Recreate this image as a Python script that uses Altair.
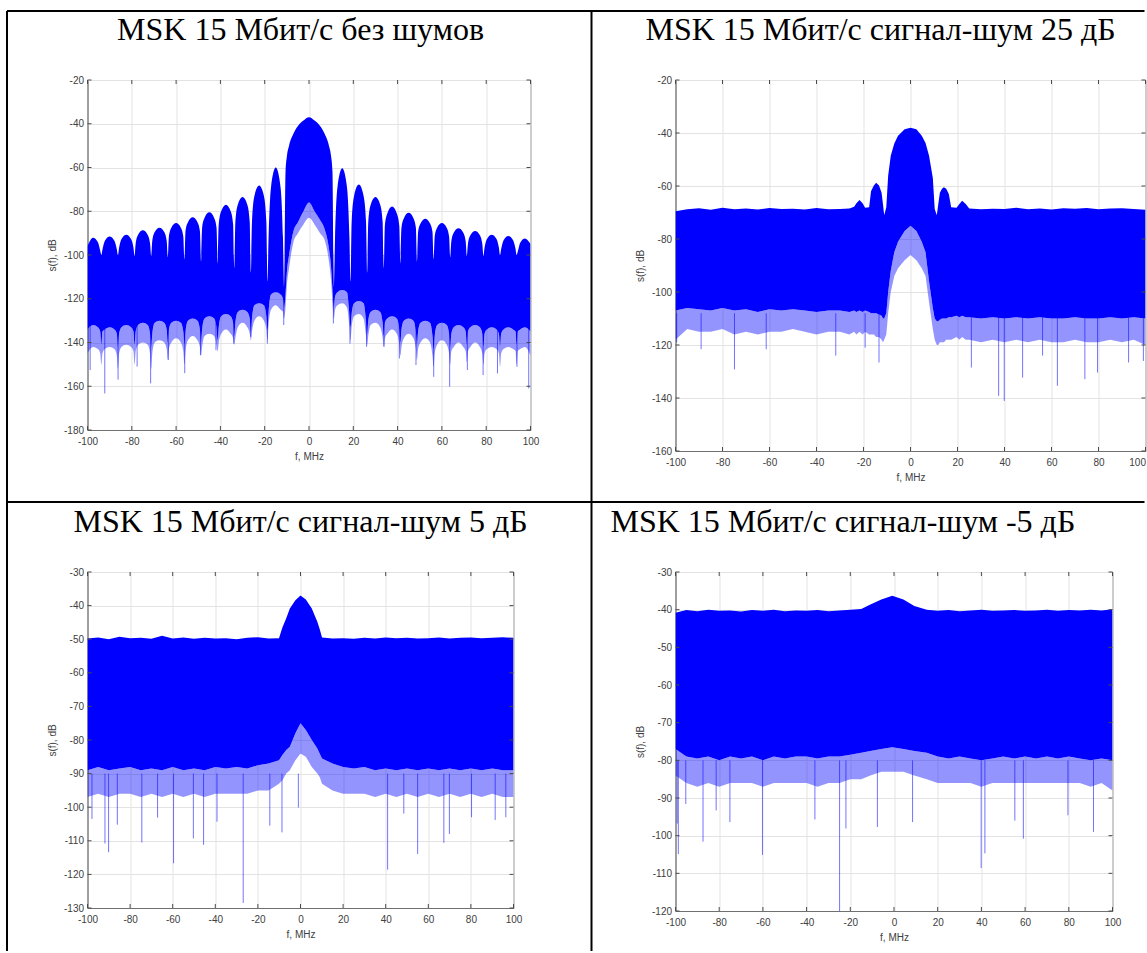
import altair as alt
import pandas as pd

BLUE = "#0000ff"
SANS = "Liberation Sans"
SERIF = "Liberation Serif"
X_TICKS = [-100, -80, -60, -40, -20, 0, 20, 40, 60, 80, 100]

# ---------------- Panel 1: no noise (one row per sidelobe) ----------------
p1_f = [
    -100, -97.5, -95.35, -94.25, -93.75,
    -93.25, -92.15, -90, -87.85, -86.75, -86.25,
    -85.75, -84.65, -82.5, -80.35, -79.25, -78.75,
    -78.25, -77.15, -75, -72.85, -71.75, -71.25,
    -70.75, -69.65, -67.5, -65.35, -64.25, -63.75,
    -63.25, -62.15, -60, -57.85, -56.75, -56.25,
    -55.75, -54.65, -52.5, -50.35, -49.25, -48.75,
    -48.25, -47.15, -45, -42.85, -41.75, -41.25,
    -40.75, -39.65, -37.5, -35.35, -34.25, -33.75,
    -33.25, -32.15, -30, -27.85, -26.75, -26.25,
    -25.75, -24.65, -22.5, -20.35, -19.25, -18.75,
    -18.25, -17.15, -15, -12.85, -11.75, -11.25,
    -10.6, -10, -9, -7, -5, -2.5, 0, 2.5, 5, 7, 9, 10, 10.6,
    11.25, 11.75, 12.85, 15, 17.15, 18.25,
    18.75, 19.25, 20.35, 22.5, 24.65, 25.75,
    26.25, 26.75, 27.85, 30, 32.15, 33.25,
    33.75, 34.25, 35.35, 37.5, 39.65, 40.75,
    41.25, 41.75, 42.85, 45, 47.15, 48.25,
    48.75, 49.25, 50.35, 52.5, 54.65, 55.75,
    56.25, 56.75, 57.85, 60, 62.15, 63.25,
    63.75, 64.25, 65.35, 67.5, 69.65, 70.75,
    71.25, 71.75, 72.85, 75, 77.15, 78.25,
    78.75, 79.25, 80.35, 82.5, 84.65, 85.75,
    86.25, 86.75, 87.85, 90, 92.15, 93.25,
    93.75, 94.25, 95.35, 97.5, 100]
p1_top = [
    -96.0, -92.1, -94.1, -98.1, -100.0,
    -97.5, -93.5, -91.5, -93.5, -97.5, -100.0,
    -96.7, -92.7, -90.7, -92.7, -96.7, -100.5,
    -94.7, -90.7, -88.7, -90.7, -94.7, -100.5,
    -93.5, -89.5, -87.5, -89.5, -93.5, -101.0,
    -91.5, -87.5, -85.4, -87.5, -91.5, -102.0,
    -89.0, -85.0, -82.7, -85.0, -89.0, -103.0,
    -87.5, -83.0, -80.5, -83.0, -87.5, -104.0,
    -86.0, -80.0, -77.0, -80.0, -86.0, -106.0,
    -85.0, -77.0, -73.5, -77.0, -85.0, -108.0,
    -85.0, -73.0, -68.2, -73.0, -85.0, -112.0,
    -92.0, -69.0, -60.0, -69.0, -92.0, -115.0,
    -62.0, -55.0, -50.0, -44.5, -41.0, -38.5, -37.0, -38.5, -41.0, -44.5, -50.0, -55.0, -62.0,
    -115.0, -92.0, -69.0, -60.3, -69.0, -92.0,
    -112.0, -85.0, -73.0, -67.8, -73.0, -85.0,
    -108.0, -85.0, -77.0, -73.5, -77.0, -85.0,
    -106.0, -86.5, -81.0, -77.8, -81.0, -86.5,
    -104.0, -87.5, -83.2, -80.7, -83.2, -87.5,
    -103.0, -89.5, -85.6, -83.4, -85.6, -89.5,
    -102.0, -91.5, -87.5, -85.4, -87.5, -91.5,
    -101.0, -93.8, -89.8, -87.8, -89.8, -93.8,
    -100.5, -95.0, -91.0, -89.0, -91.0, -95.0,
    -100.5, -96.7, -92.7, -90.7, -92.7, -96.7,
    -100.0, -97.3, -93.3, -91.3, -93.3, -97.3,
    -100.0, -98.4, -94.4, -92.4, -95.0]
p1_bot = [
    -134, -132, -133, -135, -141,
    -135, -134, -133, -134, -136, -142,
    -136, -133, -132, -133, -135, -141,
    -135, -132, -131, -132, -136, -142,
    -136, -131, -130, -131, -134, -140,
    -134, -131, -130, -131, -135, -141,
    -135, -130, -129, -130, -134, -140,
    -134, -129, -128, -129, -133, -139,
    -133, -128, -127, -128, -131, -137,
    -131, -126, -125, -126, -129, -135,
    -129, -123, -122, -123, -128, -134,
    -126, -118, -117, -118, -120, -124,
    -118, -108, -100, -89, -85, -80, -76, -80, -84, -88, -97, -106, -116,
    -124, -119, -117, -116, -117, -127,
    -133, -127, -122, -121, -122, -130,
    -136, -130, -126, -125, -126, -131,
    -137, -131, -129, -128, -129, -134,
    -140, -134, -130, -129, -130, -135,
    -141, -135, -131, -130, -131, -137,
    -143, -137, -132, -131, -132, -136,
    -142, -136, -133, -132, -133, -135,
    -141, -135, -133, -132, -133, -136,
    -142, -136, -134, -133, -134, -136,
    -142, -136, -134, -133, -134, -135,
    -141, -135, -134, -133, -135]
p1_light = [
    -145, -142, -143, -145, -150,
    -145, -143, -142, -143, -146, -152,
    -145, -142, -141, -142, -144, -150,
    -144, -141, -140, -141, -145, -152,
    -145, -140, -139, -140, -143, -148,
    -143, -140, -138, -140, -144, -150,
    -144, -139, -137, -139, -142, -146,
    -142, -137, -136, -137, -141, -144,
    -140, -136, -134, -136, -138, -141,
    -138, -133, -131, -133, -136, -139,
    -135, -130, -128, -130, -134, -139,
    -132, -125, -123, -125, -126, -129,
    -124, -114, -106, -94, -90, -86, -83, -86, -90, -93, -103, -112, -122,
    -129, -125, -123, -122, -124, -133,
    -139, -133, -128, -127, -129, -137,
    -141, -137, -132, -131, -133, -138,
    -142, -138, -136, -134, -136, -141,
    -146, -142, -138, -136, -138, -143,
    -148, -143, -140, -138, -140, -146,
    -151, -145, -141, -139, -141, -145,
    -150, -144, -142, -140, -142, -144,
    -149, -144, -142, -140, -142, -145,
    -150, -145, -143, -142, -143, -145,
    -151, -145, -143, -142, -143, -144,
    -150, -144, -143, -142, -146]
p1_spike_f = [-98.8, -92.2, -86.2, -77.6, -71.5, -63.5, -56.1, -49.0, -42.0, -34.0,
              -26.3, -18.8, -11.4, 11.0, 18.5, 26.0, 33.9, 40.8, 48.3, 56.3,
              63.5, 71.5, 78.6, 85.1, 93.9, 99.2]
p1_spike_db = [-152.6, -163.3, -157.0, -151.0, -158.7, -148.0, -154.0, -145.8, -143.5, -140.5,
               -137.4, -140.5, -132.0, -131.3, -140.5, -142.0, -142.0, -147.3, -150.3, -155.7,
               -160.2, -152.6, -154.9, -154.1, -151.1, -161.0]
p1_spike_from = -120

# ---------------- Panel 2: SNR 25 dB ----------------
p2_f = [
    -100, -95, -90, -85, -80, -75, -70, -65, -60, -55,
    -50, -45, -40, -35, -30, -26, -24, -23, -21.7, -20.4,
    -19.3, -17.6, -16.8, -15.6, -14.6, -13.4, -12.3, -11.7, -11.2, -10.3,
    -9.5, -8.4, -6.9, -5.3, -2.5, 0, 2.5, 4.8, 6.4, 7.9,
    9.5, 10.3, 11.2, 11.8, 12.5, 13.4, 14.2, 15.2, 16.3, 17.3,
    19.6, 20.8, 22, 23.5, 25, 30, 35, 40, 45, 50,
    55, 60, 65, 70, 75, 80, 85, 90, 95, 100]
p2_top = [
    -69.5, -68.8, -68.4, -69.0, -68.2, -68.8, -68.5, -68.9, -68.3, -68.7,
    -68.6, -68.9, -68.3, -68.8, -68.7, -68.5, -67.8, -66.5, -65.3, -66.5,
    -68.2, -68.0, -62.0, -59.8, -58.8, -59.8, -62.5, -67.0, -71.0, -68.0,
    -56.0, -48.6, -44.0, -41.0, -38.6, -38.0, -38.6, -41.0, -43.8, -48.6,
    -57.0, -68.7, -71.0, -67.0, -62.5, -61.0, -60.5, -61.0, -63.0, -68.0,
    -68.2, -66.8, -65.6, -66.8, -68.5, -68.8, -68.6, -68.7, -68.2, -68.8,
    -68.5, -68.9, -68.4, -68.6, -68.3, -68.8, -68.5, -68.4, -68.7, -69.0]
p2_bot = [
    -107, -106, -106.5, -107, -106, -107, -106.5, -107.5, -106.5, -107,
    -106.5, -107, -107.5, -107, -107, -107.5, -107, -107.5, -107, -107.5,
    -107, -107.5, -108, -108, -108, -108.5, -109, -110, -110, -108,
    -100, -92, -85, -81, -77, -75, -77, -81, -85, -96,
    -106, -110, -111, -111, -110.5, -110, -110, -110, -109.5, -109.5,
    -109, -109.5, -109, -109.5, -109.5, -110, -109.5, -110, -109.5, -110,
    -109.5, -110, -110, -109.5, -110, -110, -109.5, -110, -109.5, -110]
p2_light = [
    -118, -114, -115, -115, -114, -116, -115, -116, -115, -115,
    -114, -115, -116, -115, -115, -116, -115, -116, -115, -116,
    -115, -116, -116, -116, -117, -117, -118, -119, -118, -116,
    -108, -100, -94, -91, -88, -86, -88, -91, -94, -104,
    -114, -118, -120, -120, -119, -119, -119, -118, -118, -118,
    -117, -118, -117, -118, -118, -119, -118, -119, -118, -119,
    -118, -119, -119, -118, -119, -119, -118, -119, -118, -120]
p2_spike_f = [-99.5, -89.1, -74.9, -61.4, -31.8, -19.3, -13.4, 25.9, 37.5, 39.9,
              47.7, 56.2, 62.5, 74.2, 79.6, 92.8, 99.1]
p2_spike_db = [-119.0, -121.6, -129.2, -121.6, -124.0, -121.0, -126.6, -128.5, -139.2, -141.1,
               -132.3, -124.0, -135.4, -132.9, -130.4, -126.6, -126.0]
p2_spike_from = -108

# ---------------- Panel 3: SNR 5 dB ----------------
p3_f = [
    -100, -95, -90, -85, -80, -75, -70, -65, -60, -55,
    -50, -45, -40, -35, -30, -25, -20, -15, -10.1, -8.5,
    -6.7, -5, -2.4, 0, 2.5, 5.3, 7.9, 9, 10.1, 15,
    20, 25, 30, 35, 40, 45, 50, 55, 60, 65,
    70, 75, 80, 85, 90, 95, 100]
p3_top = [
    -49.8, -49.5, -50.0, -49.3, -49.7, -49.6, -49.9, -49.0, -49.8, -49.5,
    -49.9, -49.6, -49.8, -49.7, -50.0, -49.6, -49.4, -49.8, -49.7, -46.5,
    -43.8, -40.9, -38.4, -37.0, -38.2, -40.9, -44.8, -47.0, -49.5, -49.8,
    -49.7, -49.9, -49.6, -49.8, -49.5, -49.7, -49.6, -49.8, -49.7, -49.5,
    -49.8, -49.6, -49.5, -49.7, -49.6, -49.4, -49.6]
p3_bot = [
    -89, -88, -89, -88.5, -88, -89, -88.5, -89, -88, -89,
    -88.5, -89, -88, -88.5, -88, -88.5, -87.5, -87, -86, -84.5,
    -83, -82, -78, -75, -77, -80, -82.5, -84, -85.5, -87,
    -88, -88.5, -88, -89, -88.5, -89, -88.5, -89, -88.5, -89,
    -88.5, -89, -88.5, -89, -88.5, -89, -89]
p3_light = [
    -97, -96, -97, -96, -96, -97, -96, -97, -96, -97,
    -96, -97, -96, -96, -96, -96, -95, -95, -93, -92,
    -90, -89, -86, -84, -85, -88, -90, -91, -93, -95,
    -96, -96, -96, -97, -96, -97, -96, -97, -96, -97,
    -96, -97, -96, -97, -96, -97, -97]
p3_spike_f = [-97.9, -91.8, -90.1, -86.0, -74.5, -67.1, -59.6, -50.3, -45.5, -39.2,
              -26.9, -14.4, -8.7, -1.0, 40.9, 48.5, 55.0, 67.3, 69.9, 80.3,
              91.4, 96.4]
p3_spike_db = [-103.5, -110.8, -113.4, -105.2, -110.5, -103.1, -116.7, -109.3, -111.2, -104.3,
               -128.5, -105.5, -107.5, -100.1, -118.6, -101.9, -113.9, -110.6, -108.0, -103.0,
               -103.8, -103.0]
p3_spike_from = -90

# ---------------- Panel 4: SNR -5 dB ----------------
p4_f = [
    -100, -95, -90, -85, -80, -75, -70, -65, -60, -55,
    -50, -45, -40, -35, -30, -25, -20, -15, -10.8, -5.8,
    -0.8, 4.3, 9.3, 15, 20, 25, 30, 35, 40, 45,
    50, 55, 60, 65, 70, 75, 80, 85, 90, 95,
    100]
p4_top = [
    -40.8, -40.1, -40.4, -40.0, -40.3, -40.2, -40.5, -40.1, -40.3, -40.0,
    -40.4, -40.2, -40.3, -40.1, -40.4, -40.2, -40.0, -39.8, -38.6, -37.3,
    -36.3, -37.3, -39.0, -40.0, -40.3, -40.1, -40.4, -40.2, -40.0, -40.3,
    -40.2, -40.1, -40.3, -40.2, -40.0, -40.3, -40.1, -40.2, -40.0, -40.2,
    -39.9]
p4_bot = [
    -77, -79, -79.5, -79, -80, -79, -79.5, -79, -80, -79,
    -79.5, -79, -79, -79.5, -79, -79, -78.5, -78, -77.5, -77,
    -76.5, -77, -77.5, -78, -79, -79.5, -79, -79.5, -80, -79.5,
    -79, -79.5, -79, -79.5, -79, -79.5, -79, -79.5, -80, -79.5,
    -80]
p4_light = [
    -84, -86, -87, -86, -87, -86, -86, -86, -87, -86,
    -86, -86, -86, -87, -86, -86, -85, -85, -84, -83,
    -83, -83, -84, -85, -86, -86, -86, -86, -87, -86,
    -86, -86, -86, -86, -86, -86, -86, -86, -87, -86,
    -88]
p4_spike_f = [-99.2, -98.7, -95.3, -87.4, -81.4, -75.1, -60.2, -36.2, -24.9, -22.0,
              -7.6, 8.5, 39.9, 41.6, 55.3, 59.2, 79.6, 91.3]
p4_spike_db = [-96.8, -104.9, -91.6, -101.6, -93.3, -96.4, -105.1, -95.7, -120.0, -98.1,
               -97.7, -96.4, -108.6, -104.7, -96.0, -100.8, -94.6, -99.0]
p4_spike_from = -80

titles = ["MSK 15 Мбит/с без шумов", "MSK 15 Мбит/с сигнал-шум 25 дБ",
          "MSK 15 Мбит/с сигнал-шум 5 дБ", "MSK 15 Мбит/с сигнал-шум -5 дБ"]


def x_axis(right_last=False):
    kw = dict(values=X_TICKS, title="f, MHz", grid=True, ticks=False, labelFlush=False,
              labelPadding=6, titlePadding=5, labelExpr="datum.value + ''")
    if right_last:
        kw["labelAlign"] = {"condition": {"test": "datum.value == 100", "value": "right"},
                            "value": "center"}
    return alt.Axis(**kw)


def panel(f, top, bot, light, sf, sdb, sfrom, ydom, ystep, w, h, interp, right_last=False):
    d = pd.DataFrame({"f": f, "top": top, "bot": bot, "light": light})
    s = pd.DataFrame({"f": sf, "db": sdb})
    s["from"] = sfrom
    yvals = list(range(ydom[0], ydom[1] + 1, ystep))
    xs = alt.Scale(domain=[-100, 100], nice=False, zero=False)
    ys = alt.Scale(domain=ydom, nice=False, zero=False)
    xax = x_axis(right_last)
    yax = alt.Axis(values=yvals, title="s(f), dB", grid=True, ticks=False, labelPadding=4,
                   titlePadding=6, labelExpr="datum.value + ''")
    X = alt.X("f:Q", scale=xs, axis=xax)
    spikes = alt.Chart(s).mark_rule(color=BLUE, strokeWidth=1, opacity=0.55, clip=True).encode(
        x=X, y=alt.Y("from:Q", scale=ys, axis=yax), y2="db:Q")
    light_a = alt.Chart(d).mark_area(color=BLUE, opacity=0.42, interpolate=interp, clip=True).encode(
        x=X, y=alt.Y("bot:Q", scale=ys, axis=yax), y2="light:Q")
    dark_a = alt.Chart(d).mark_area(color=BLUE, opacity=1, interpolate=interp, clip=True).encode(
        x=X, y=alt.Y("top:Q", scale=ys, axis=yax), y2="bot:Q")
    # MATLAB-style inward ticks on all four sides
    tx = pd.DataFrame({"v": X_TICKS})
    ty = pd.DataFrame({"v": yvals})
    TX = alt.X("v:Q", scale=xs, axis=xax)
    TY = alt.Y("v:Q", scale=ys, axis=yax)
    tk = dict(color="#4a4a4a", strokeWidth=1)
    t_b = alt.Chart(tx).mark_rule(**tk).encode(x=TX, y=alt.value(h), y2=alt.value(h - 4))
    t_t = alt.Chart(tx).mark_rule(**tk).encode(x=TX, y=alt.value(0), y2=alt.value(4))
    t_l = alt.Chart(ty).mark_rule(**tk).encode(y=TY, x=alt.value(0), x2=alt.value(4))
    t_r = alt.Chart(ty).mark_rule(**tk).encode(y=TY, x=alt.value(w), x2=alt.value(w - 4))
    return [spikes, light_a, dark_a, t_b, t_t, t_l, t_r]


one = pd.DataFrame({"k": [0]})


def hline(y, x1, x2):
    return alt.Chart(one).mark_rule(color="black", strokeWidth=2).encode(
        y=alt.value(y), x=alt.value(x1), x2=alt.value(x2))


def vline(x, y1, y2):
    return alt.Chart(one).mark_rule(color="black", strokeWidth=2).encode(
        x=alt.value(x), y=alt.value(y1), y2=alt.value(y2))


def ttext(txt, x, y, align):
    return alt.Chart(one).mark_text(text=txt, font=SERIF, fontSize=32, align=align,
                                    baseline="alphabetic", color="black").encode(
        x=alt.value(x), y=alt.value(y))


# table borders and cell titles, placed relative to the first panel's plot origin (88, 80)
decor = [
    hline(-69, -80.5, 1057), vline(-80.5, -69, 871), vline(504, -69, 871), hline(422, -80.5, 1057),
    ttext(titles[0], 213, -40, "center"), ttext(titles[1], 793, -40, "center"),
    ttext(titles[2], 213, 452, "center"), ttext(titles[3], 523, 452, "left"),
]

l1 = panel(p1_f, p1_top, p1_bot, p1_light, p1_spike_f, p1_spike_db, p1_spike_from,
           [-180, -20], 20, 443, 350, "monotone")
l2 = panel(p2_f, p2_top, p2_bot, p2_light, p2_spike_f, p2_spike_db, p2_spike_from,
           [-160, -20], 20, 470, 371, "linear", right_last=True)
l3 = panel(p3_f, p3_top, p3_bot, p3_light, p3_spike_f, p3_spike_db, p3_spike_from,
           [-130, -30], 10, 426, 336, "linear")
l4 = panel(p4_f, p4_top, p4_bot, p4_light, p4_spike_f, p4_spike_db, p4_spike_from,
           [-120, -30], 10, 437, 339, "linear")

tl = alt.layer(*l1, *decor).properties(width=443, height=350)
tr = alt.layer(*l2).properties(width=470, height=371)
bl = alt.layer(*l3).properties(width=426, height=336)
br = alt.layer(*l4).properties(width=437, height=339)

chart = alt.concat(
    tl, tr, bl, br, columns=2, spacing={"row": 121, "column": 145}, bounds="flush", align="each"
).properties(
    padding={"left": 5.5, "top": 9, "right": 0, "bottom": 0}
).configure_axis(
    labelFont=SANS, labelFontSize=10, labelColor="#404040",
    titleFont=SANS, titleFontSize=10, titleFontWeight="normal", titleColor="#404040",
    gridColor="#e3e3e3", gridWidth=1, domainColor="#707070", domainWidth=1,
).configure_view(stroke="#707070", strokeWidth=1)

chart.save("out.html", embed_options={"renderer": "svg", "actions": False})
